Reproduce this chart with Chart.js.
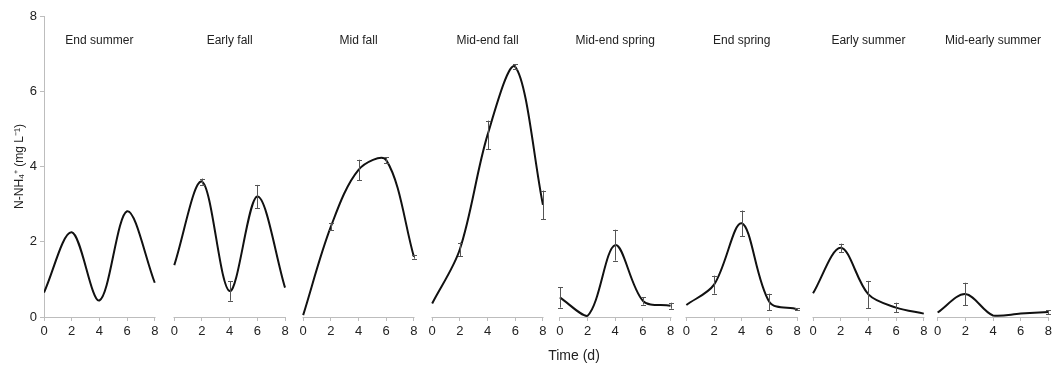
<!DOCTYPE html>
<html>
<head>
<meta charset="utf-8">
<script src="https://cdn.jsdelivr.net/npm/chart.js@4"></script>
<style>
  html, body { margin: 0; padding: 0; background: #fff; }
  #wrap { width: 1055px; height: 369px; }
</style>
</head>
<body>
<div id="wrap"><canvas id="c" width="1055" height="369"></canvas></div>
<script>
// ---- data ----
const panelTitles = ['End summer', 'Early fall', 'Mid fall', 'Mid-end fall',
  'Mid-end spring', 'End spring', 'Early summer', 'Mid-early summer'];
const days = [0, 2, 4, 6, 8];
const tickLabels = ['0', '2', '4', '6', '8'];
const yTicks = [0, 2, 4, 6, 8];

const endSummer       = [0.65, 2.25, 0.44, 2.81, 0.91];
const endSummerErr    = [0, 0, 0, 0, 0];
const earlyFall       = [1.38, 3.60, 0.69, 3.20, 0.78];
const earlyFallErr    = [0, 0.08, 0.26, 0.31, 0];
const midFall         = [0.05, 2.40, 3.91, 4.17, 1.60];
const midFallErr      = [0, 0.10, 0.27, 0.07, 0.05];
const midEndFall      = [0.36, 1.80, 4.84, 6.65, 2.98];
const midEndFallErr   = [0, 0.18, 0.38, 0.07, 0.38];
const midEndSpring    = [0.52, 0.03, 1.91, 0.43, 0.30];
const midEndSpringErr = [0.27, 0, 0.41, 0.10, 0.08];
const endSpring       = [0.32, 0.86, 2.49, 0.40, 0.21];
const endSpringErr    = [0, 0.24, 0.34, 0.22, 0.03];
const earlySummer     = [0.63, 1.84, 0.60, 0.25, 0.09];
const earlySummerErr  = [0, 0.11, 0.36, 0.13, 0];
const midEarlySummer  = [0.12, 0.61, 0.04, 0.09, 0.13];
const midEarlySummerErr = [0, 0.30, 0, 0, 0.05];

const seriesValues = [endSummer, earlyFall, midFall, midEndFall,
  midEndSpring, endSpring, earlySummer, midEarlySummer];
const seriesErrors = [endSummerErr, earlyFallErr, midFallErr, midEndFallErr,
  midEndSpringErr, endSpringErr, earlySummerErr, midEarlySummerErr];

// ---- layout constants (where each panel starts on the shared x scale) ----
const PANEL_OFFSETS = [0, 9.41, 18.72, 28.04, 37.26, 46.4, 55.55, 64.55];
const PANEL_SPAN = 8;
const FONT = '"Liberation Sans", Arial, sans-serif';
const TEXT = '#222';
const AXIS = '#bdbdbd';

const datasets = seriesValues.map((vals, k) => ({
  label: panelTitles[k],
  data: vals.map((v, i) => ({ x: PANEL_OFFSETS[k] + days[i], y: v })),
  errors: seriesErrors[k],
  borderColor: '#111',
  borderWidth: 2,
  pointRadius: 0,
  tension: 0.33,
  fill: false
}));

const tickValues = [];
panelTitles.forEach((_, k) => days.forEach(d => tickValues.push(PANEL_OFFSETS[k] + d)));

const panelPlugin = {
  id: 'panels',
  afterDraw(chart) {
    const ctx = chart.ctx;
    const xs = chart.scales.x, ys = chart.scales.y;
    const y0 = ys.getPixelForValue(0);
    ctx.save();
    ctx.strokeStyle = AXIS;
    ctx.lineWidth = 1;
    panelTitles.forEach((_, k) => {
      const a = xs.getPixelForValue(PANEL_OFFSETS[k]);
      const b = xs.getPixelForValue(PANEL_OFFSETS[k] + PANEL_SPAN);
      ctx.beginPath();
      ctx.moveTo(Math.round(a) - 0.5, Math.round(y0) + 0.5);
      ctx.lineTo(Math.round(b) + 0.5, Math.round(y0) + 0.5);
      ctx.stroke();
    });
    ctx.fillStyle = TEXT;
    ctx.font = '12px ' + FONT;
    ctx.textAlign = 'center';
    ctx.textBaseline = 'middle';
    panelTitles.forEach((t, k) => {
      const cx = xs.getPixelForValue(PANEL_OFFSETS[k] + PANEL_SPAN / 2);
      ctx.fillText(t, cx, 41);
    });
    ctx.font = '14px ' + FONT;
    ctx.fillText('Time (d)', 574, 356);
    ctx.restore();
  },
  afterDatasetsDraw(chart) {
    const ctx = chart.ctx;
    const xs = chart.scales.x, ys = chart.scales.y;
    ctx.save();
    ctx.strokeStyle = '#555';
    ctx.lineWidth = 1;
    chart.data.datasets.forEach(ds => {
      ds.data.forEach((p, i) => {
        const e = ds.errors[i];
        if (!e) return;
        const px = Math.round(xs.getPixelForValue(p.x)) + 0.5;
        const top = ys.getPixelForValue(p.y + e);
        const bot = ys.getPixelForValue(Math.max(p.y - e, 0));
        ctx.beginPath();
        ctx.moveTo(px, top); ctx.lineTo(px, bot);
        ctx.moveTo(px - 2.5, Math.round(top) + 0.5); ctx.lineTo(px + 2.5, Math.round(top) + 0.5);
        ctx.moveTo(px - 2.5, Math.round(bot) + 0.5); ctx.lineTo(px + 2.5, Math.round(bot) + 0.5);
        ctx.stroke();
      });
    });
    ctx.restore();
  }
};

new Chart(document.getElementById('c'), {
  type: 'line',
  data: { datasets },
  options: {
    responsive: false,
    animation: false,
    devicePixelRatio: 1,
    layout: { padding: { top: 16, right: 6, left: 0, bottom: 0 } },
    plugins: { legend: { display: false }, tooltip: { enabled: false } },
    scales: {
      x: {
        type: 'linear',
        min: 0,
        max: PANEL_OFFSETS[PANEL_OFFSETS.length - 1] + PANEL_SPAN,
        afterBuildTicks: s => { s.ticks = tickValues.map(v => ({ value: v })); },
        afterFit: s => { s.height = 52; },
        border: { display: false },
        grid: { display: true, drawOnChartArea: false, drawTicks: true, tickLength: 4, color: AXIS },
        ticks: {
          autoSkip: false, maxRotation: 0, padding: 3,
          color: TEXT, font: { family: FONT, size: 13 },
          callback: (v, i) => tickLabels[i % tickLabels.length]
        }
      },
      y: {
        min: 0, max: 8,
        afterBuildTicks: s => { s.ticks = yTicks.map(v => ({ value: v })); },
        afterFit: s => { s.width = 44; },
        border: { display: true, color: AXIS },
        grid: { display: true, drawOnChartArea: false, drawTicks: true, tickLength: 4, color: AXIS },
        ticks: { color: TEXT, padding: 3, font: { family: FONT, size: 13 } },
        title: {
          display: true,
          text: 'N-NH\u2084\u207A (mg L\u207B\u00B9)',
          color: TEXT,
          font: { family: FONT, size: 12 },
          padding: { top: 12, bottom: 0 }
        }
      }
    }
  },
  plugins: [panelPlugin]
});
</script>
</body>
</html>
